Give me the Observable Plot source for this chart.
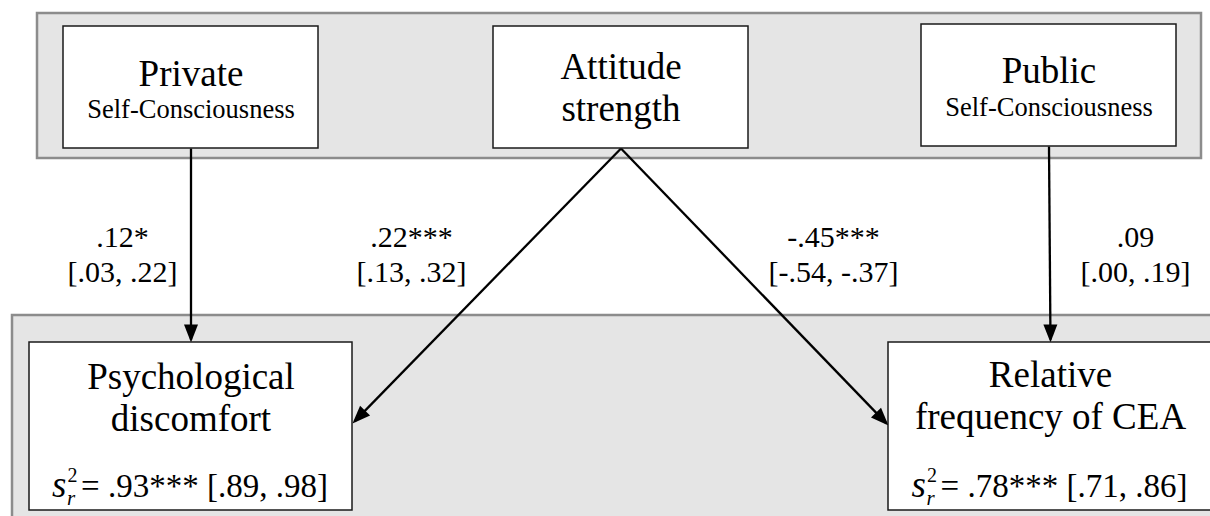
<!DOCTYPE html>
<html>
<head>
<meta charset="utf-8">
<script src="https://cdn.jsdelivr.net/npm/d3@7"></script>
<script src="https://cdn.jsdelivr.net/npm/@observablehq/plot@0.6"></script>
<style>
  html, body { margin: 0; padding: 0; background: #fff; }
  #chart svg { display: block; }
  #chart svg text { font-family: "Liberation Serif", "Times New Roman", Times, serif; }
</style>
</head>
<body>
<div id="chart"></div>
<script>
// ---------- data ----------
const nodeTitles = ["Private", "Attitude\nstrength", "Public", "Psychological\ndiscomfort", "Relative\nfrequency of CEA"];
const nodeSubtitles = ["Self-Consciousness", "", "Self-Consciousness", "", ""];
const pathFrom = [0, 1, 1, 2];
const pathTo = [3, 3, 4, 4];
const pathCoefficients = [".12*", ".22***", "-.45***", ".09"];
const pathIntervals = ["[.03, .22]", "[.13, .32]", "[-.54, -.37]", "[.00, .19]"];
const residualNodes = [3, 4];
const residualValues = [".93***", ".78***"];
const residualIntervals = ["[.89, .98]", "[.71, .86]"];

// ---------- layout (diagram geometry, kept apart from the data) ----------
const W = 1210, H = 516;
const panels = [
  {x1: 37, x2: 1201, y1: 13, y2: 158},
  {x1: 12, x2: 1240, y1: 315, y2: 540}
];
const boxes = [
  {x1: 63, x2: 318, y1: 26, y2: 148},
  {x1: 493, x2: 748, y1: 26, y2: 148},
  {x1: 921, x2: 1176, y1: 24, y2: 146},
  {x1: 29, x2: 352, y1: 342, y2: 510},
  {x1: 888, x2: 1212, y1: 342, y2: 510}
];
const titleBaseline = [85, 120, 82, 430, 428];   // baseline of the last title line
const subtitleBaseline = [117, 0, 115, 0, 0];
const labelX = [122, 411, 833, 1135];
const labelBase1 = 246, labelBase2 = 281;
const residualBaseline = 496;

const cx = b => (b.x1 + b.x2) / 2;
const cy = b => (b.y1 + b.y2) / 2;
const TIP = 3; // arrow tip sticks out this far past the line end

// edges computed from box geometry
const links = pathFrom.map((f, i) => {
  const s = boxes[f], t = boxes[pathTo[i]];
  const x1 = cx(s), y1 = s.y2;
  let x2, y2;
  if (Math.abs(cx(s) - cx(t)) < 10) { x2 = cx(t); y2 = t.y1; }
  else if (cx(t) < cx(s)) { x2 = t.x2; y2 = cy(t) - 3; }
  else { x2 = t.x1; y2 = cy(t) - 1; }
  const len = Math.hypot(x2 - x1, y2 - y1);
  return {x1, y1, x2: x2 - TIP * (x2 - x1) / len, y2: y2 - TIP * (y2 - y1) / len};
});

const nodes = nodeTitles.map((t, i) => ({title: t, sub: nodeSubtitles[i], ...boxes[i],
  cx: cx(boxes[i]), tb: titleBaseline[i], sb: subtitleBaseline[i]}));
const labels = pathCoefficients.map((c, i) => ({coef: c, ci: pathIntervals[i], x: labelX[i]}));
const residuals = residualNodes.map((n, i) => ({
  text: `= ${residualValues[i]} ${residualIntervals[i]}`,
  cx: cx(boxes[n])
}));

const serif = "Liberation Serif";

function arrowHead(color) {
  const m = d3.create("svg:marker")
    .attr("viewBox", "-20 -8 20 16")
    .attr("markerWidth", 20).attr("markerHeight", 16)
    .attr("markerUnits", "userSpaceOnUse")
    .attr("orient", "auto")
    .attr("refX", -TIP).attr("refY", 0);
  m.append("path").attr("d", "M-18,-7L0,0L-18,7Z").attr("fill", color).attr("stroke", "none");
  return m.node();
}

const T = (data, opts) => Plot.text(data, {fontFamily: serif, fill: "#000", lineAnchor: "bottom", ...opts});

const chart = Plot.plot({
  width: W, height: H, margin: 0,
  x: {domain: [0, W], range: [0, W], axis: null},
  y: {domain: [0, H], range: [0, H], axis: null},
  style: {background: "#fff", overflow: "hidden", fontFamily: serif},
  marks: [
    Plot.rect(panels, {x1: "x1", x2: "x2", y1: "y1", y2: "y2", fill: "#e5e5e5", stroke: "#8c8c8c", strokeWidth: 2.5}),
    Plot.link(links, {x1: "x1", y1: "y1", x2: "x2", y2: "y2", stroke: "#000", strokeWidth: 2.3, markerEnd: arrowHead}),
    Plot.rect(nodes, {x1: "x1", x2: "x2", y1: "y1", y2: "y2", fill: "#fff", stroke: "#1a1a1a", strokeWidth: 1.5}),
    T(nodes, {x: "cx", y: "tb", text: "title", fontSize: 37, lineHeight: 1.13}),
    T(nodes.filter(d => d.sub), {x: "cx", y: "sb", text: "sub", fontSize: 26.5}),
    T(labels, {x: "x", y: () => labelBase1, text: "coef", fontSize: 30}),
    T(labels, {x: "x", y: () => labelBase2, text: "ci", fontSize: 30}),
    // residual variance line; rebuilt below into s, superscript 2, subscript r and the value
    T(residuals, {x: d => d.cx - 139, y: () => residualBaseline, text: "text", fontSize: 33, textAnchor: "start"})
  ]
});

const residualTexts = residuals.map(d => d.text);
d3.select(chart).selectAll("text")
  .filter(function () { return residualTexts.includes(this.textContent); })
  .each(function () {
    const t = d3.select(this);
    const content = this.textContent;
    t.text(null);
    t.append("tspan").attr("font-style", "italic").attr("font-size", 37).text("s");
    t.append("tspan").attr("font-size", 20).attr("dx", 1).attr("dy", -15).text("2");
    t.append("tspan").attr("font-style", "italic").attr("font-size", 21).attr("dx", -10.5).attr("dy", 23).text("r");
    t.append("tspan").attr("font-size", 33).attr("dx", 6).attr("dy", -8).text(content);
  });

document.getElementById("chart").appendChild(chart);
</script>
</body>
</html>
